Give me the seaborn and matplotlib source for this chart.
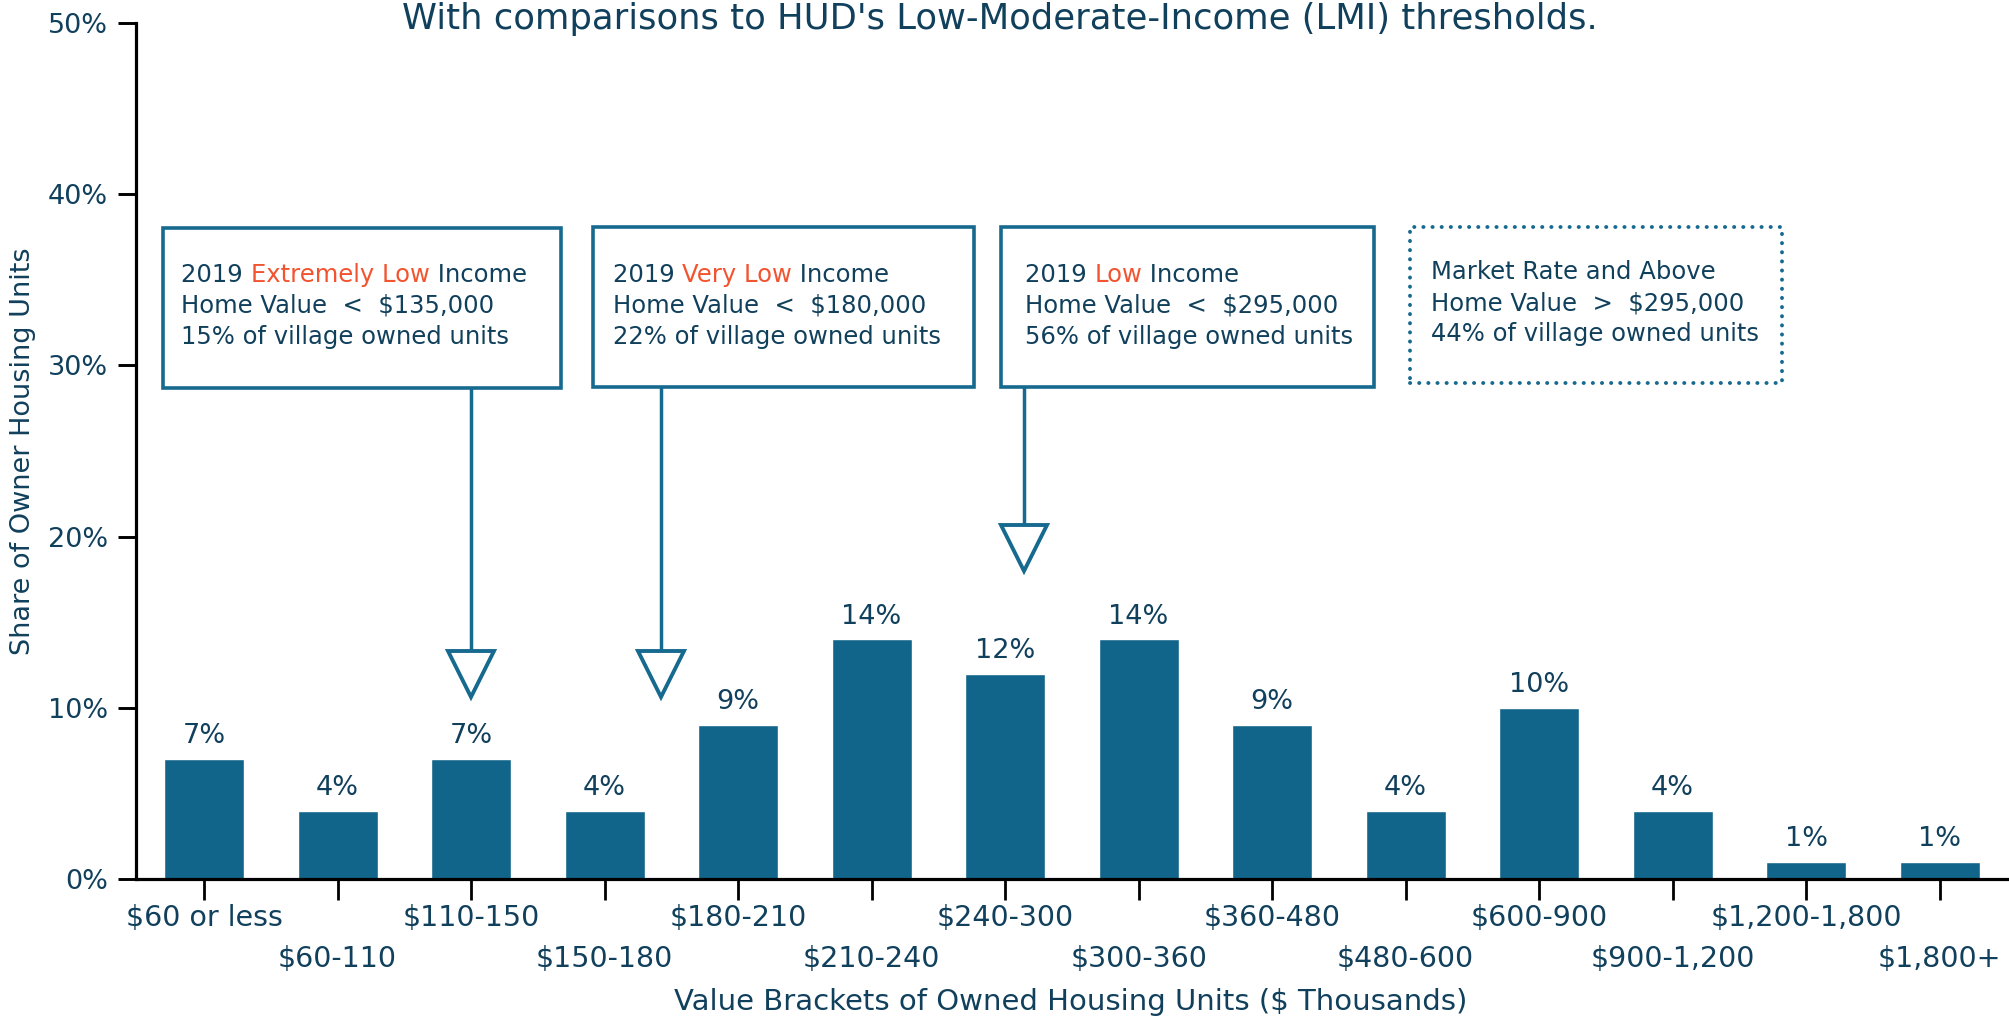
import numpy as np
import pandas as pd
import seaborn as sns
import matplotlib.pyplot as plt
from matplotlib.patches import Rectangle

# ---------------------------------------------------------------- data
brackets = ["$60 or less", "$60-110", "$110-150", "$150-180", "$180-210", "$210-240",
            "$240-300", "$300-360", "$360-480", "$480-600", "$600-900", "$900-1,200",
            "$1,200-1,800", "$1,800+"]
shares = [7, 4, 7, 4, 9, 14, 12, 14, 9, 4, 10, 4, 1, 1]
yticks = [0, 10, 20, 30, 40, 50]

box_head = [("2019 ", "Extremely Low", " Income"),
            ("2019 ", "Very Low", " Income"),
            ("2019 ", "Low", " Income"),
            ("Market Rate and Above", "", "")]
box_value = ["Home Value  <  $135,000", "Home Value  <  $180,000",
             "Home Value  <  $295,000", "Home Value  >  $295,000"]
box_share = ["15% of village owned units", "22% of village owned units",
             "56% of village owned units", "44% of village owned units"]

# ---------------------------------------------------------------- style
BAR = "#12658a"
TXT = "#11405c"
EDGE = "#176a8f"
RED = "#f25430"

sns.set_style("white")
plt.rcParams["font.family"] = ["DejaVu Sans"]

df = pd.DataFrame({"bracket": brackets, "share": shares})

fig = plt.figure(figsize=(20.09, 10.19), dpi=100)
ax = fig.add_axes([136 / 2009, 140 / 1019, 1 - 136 / 2009, 856 / 1019])

sns.barplot(data=df, x="bracket", y="share", color=BAR, width=0.6,
            saturation=1, ax=ax)

ax.set_xlim(-0.51, 13.52)
ax.set_ylim(0, 50)
ax.set_yticks(yticks)
ax.set_yticklabels([f"{t}%" for t in yticks], color=TXT, fontsize=19.5)
ax.set_ylabel("")

for s in ["top", "right"]:
    ax.spines[s].set_visible(False)
for s in ["left", "bottom"]:
    ax.spines[s].set_linewidth(2.3)
    ax.spines[s].set_color("black")

ax.tick_params(axis="y", length=13, width=2.1, color="black", pad=7, left=True)
ax.tick_params(axis="x", length=15, width=2.0, color="black", pad=3,
               bottom=True, labelsize=20.5, labelcolor=TXT)

ax.set_xticks(range(len(brackets)))
ax.set_xticklabels(brackets)
for i, lbl in enumerate(ax.get_xticklabels()):
    if i % 2 == 1:
        lbl.set_y(-41 / 856)

ax.bar_label(ax.containers[0], labels=[f"{v}%" for v in shares],
             padding=7, fontsize=19.5, color=TXT)

# ---------------------------------------------------------------- annotation boxes
boxes = [(-0.31, 2.67, 28.68, 38.03, -0.17), (2.91, 5.77, 28.74, 38.08, 3.06),
         (5.97, 8.76, 28.74, 38.08, 6.15), (9.03, 11.82, 29.0, 38.08, 9.19)]
line_y = [35.28, 33.47, 31.66]

for k, (x0, x1, y0, y1, tx) in enumerate(boxes):
    dotted = k == 3
    rect = Rectangle((x0, y0), x1 - x0, y1 - y0, fill=False, edgecolor=EDGE,
                     linewidth=2.8 if dotted else 2.6, clip_on=False,
                     linestyle=(0, (0.05, 2.3)) if dotted else "-",
                     capstyle="round" if dotted else "butt",
                     joinstyle="miter")
    ax.add_patch(rect)
    off = 0.15 if dotted else 0
    a, b, c = box_head[k]
    t = ax.text(tx, line_y[0] + off, a, fontsize=17.5, color=TXT, va="center")
    if b:
        t = ax.annotate(b, xy=(1, 0), xycoords=t, va="bottom", fontsize=17.5, color=RED)
        ax.annotate(c, xy=(1, 0), xycoords=t, va="bottom", fontsize=17.5, color=TXT)
    ax.text(tx, line_y[1] + off, box_value[k], fontsize=17.5, color=TXT, va="center")
    ax.text(tx, line_y[2] + off, box_share[k], fontsize=17.5, color=TXT, va="center")

# arrows from the boxes down to the brackets
arrows = [(2.0, 28.68, 11.95), (3.42, 28.74, 11.95), (6.14, 28.74, 19.36)]
for ax_x, top, mid in arrows:
    ax.plot([ax_x, ax_x], [top, mid + 1.2], color=EDGE, lw=2.5, clip_on=False,
            solid_capstyle="butt")
    ax.plot([ax_x], [mid], marker="v", markersize=33, markerfacecolor="white",
            markeredgecolor=EDGE, markeredgewidth=2.8, clip_on=False)

# ---------------------------------------------------------------- titles
fig.text(0.4975, 1 - 29 / 1019, "With comparisons to HUD's Low-Moderate-Income (LMI) thresholds.",
         ha="center", va="baseline", fontsize=25.5, color=TXT)
ax.set_xlabel("Value Brackets of Owned Housing Units ($ Thousands)", fontsize=21, color=TXT)
ax.xaxis.set_label_coords((1071 - 136) / 1873, -(988 - 879) / 856)
fig.text(23 / 2009, 1 - 451 / 1019, "Share of Owner Housing Units", rotation=90,
         ha="center", va="center", fontsize=19.5, color=TXT)

fig.savefig("out.png", dpi=100)
